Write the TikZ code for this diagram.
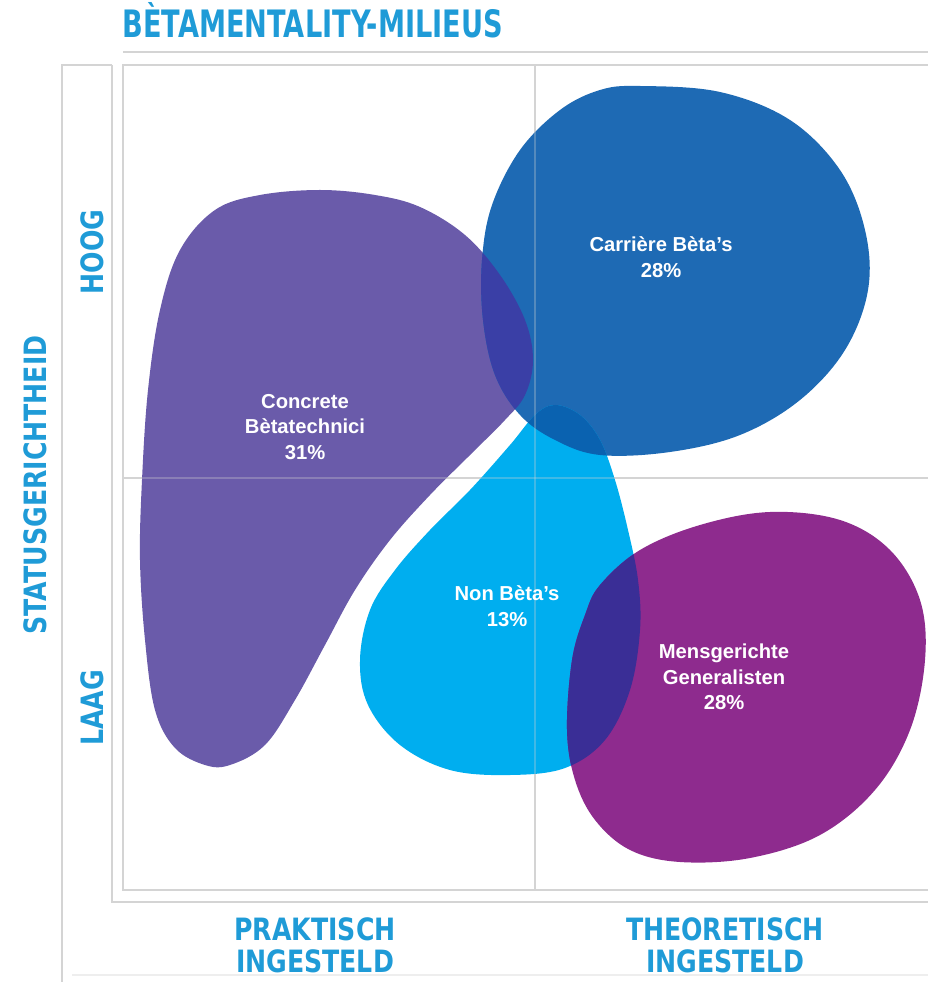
\documentclass[tikz,border=0pt]{standalone}
\usepackage{fontspec}
\setmainfont{Liberation Sans}
\newfontfamily\headfont[FakeStretch=0.72]{DejaVu Sans}
\newfontfamily\axisfont[FakeStretch=0.82]{DejaVu Sans}
\definecolor{milieublue}{HTML}{1F9BD7}
\definecolor{gridgray}{HTML}{D4D4D4}
\definecolor{concretepurple}{HTML}{6A5BAA}
\definecolor{carriereblue}{HTML}{1E6AB4}
\definecolor{noncyan}{HTML}{00AEEF}
\definecolor{mensmagenta}{HTML}{8E2B8E}
\definecolor{purpleblue}{HTML}{3A3FA6}
\definecolor{cyanblue}{HTML}{0A62B0}
\definecolor{cyanmagenta}{HTML}{3A2E96}
\tikzset{
  gridline/.style={draw=gridgray,line width=1.6pt},
  headlabel/.style={text=milieublue,inner sep=0pt,align=center,
    font=\axisfont\bfseries\fontsize{17.5}{18}\selectfont},
  blobtext/.style={text=white,inner sep=0pt,align=center,
    font=\bfseries\fontsize{11.5}{14.5}\selectfont}
}
\def\concreteblob{plot[smooth cycle,tension=0.6] coordinates {(320,190) (375,195) (420,207) (465,235) (500,275) (525,320) (533,360) (525,395) (505,420) (470,455) (430,495) (390,540) (355,590) (325,645) (295,700) (265,745) (230,765) (205,765) (175,748) (155,710) (145,640) (140,560) (142,480) (148,390) (160,310) (180,250) (215,210) (260,195)}}
\def\carriereblob{plot[smooth cycle,tension=0.6] coordinates {(640,86) (720,92) (790,120) (840,170) (865,230) (868,290) (845,350) (800,400) (740,435) (670,452) (600,455) (555,440) (520,415) (495,375) (483,320) (482,260) (492,205) (520,150) (560,110) (600,90)}}
\def\nonblob{plot[smooth cycle,tension=0.6] coordinates {(555,405) (580,415) (600,440) (615,480) (628,530) (638,580) (640,630) (630,690) (605,740) (565,768) (510,775) (450,770) (400,745) (368,705) (360,660) (370,610) (395,570) (430,530) (470,490) (510,445) (535,415)}}
\def\mensblob{plot[smooth cycle,tension=0.6] coordinates {(600,585) (640,550) (700,525) (770,512) (840,520) (890,550) (920,600) (925,660) (910,730) (875,790) (820,835) (750,858) (680,862) (630,850) (595,820) (575,780) (567,730) (572,660) (585,615)}}

\begin{document}
\begin{tikzpicture}[x=0.02cm,y=-0.02cm]
\useasboundingbox (0,0) rectangle (928,982);
\draw [gridline] (123,52) -- (928,52);
\draw [gridline] (62,982) -- (62,65) -- (112,65);
\draw [gridline] (112,65) -- (112,902) -- (928,902);
\draw [gridline] (940,65) -- (123,65) -- (123,890) -- (940,890);
\draw [gridline] (535,65) -- (535,890);
\draw [gridline] (123,478) -- (928,478);
\draw [draw=gridgray!40,line width=1pt] (72,975) -- (928,975);
\fill [concretepurple] \concreteblob;
\fill [carriereblue] \carriereblob;
\fill [noncyan] \nonblob;
\fill [mensmagenta] \mensblob;
\begin{scope}
\clip \carriereblob;
\fill [purpleblue] \concreteblob;
\fill [cyanblue] \nonblob;
\end{scope}
\begin{scope}
\clip \mensblob;
\fill [cyanmagenta] \nonblob;
\end{scope}
\draw [gridline,draw opacity=0.3] (535,65) -- (535,890);
\draw [gridline,draw opacity=0.3] (123,478) -- (928,478);
\node at (122,38) [anchor=base west,text=milieublue,inner sep=0pt,font=\headfont\bfseries\fontsize{21.5}{22}\selectfont] (Title) {BÈTAMENTALITY-MILIEUS};
\node at (35,485) [headlabel,rotate=90] (Status) {STATUSGERICHTHEID};
\node at (92,252) [headlabel,rotate=90] (Hoog) {HOOG};
\node at (92,708) [headlabel,rotate=90] (Laag) {LAAG};
\node at (315,945) [headlabel] (Praktisch) {PRAKTISCH\\INGESTELD};
\node at (725,945) [headlabel] (Theoretisch) {THEORETISCH\\INGESTELD};
\node at (661,257) [blobtext] (Carriere) {Carrière Bèta's\\28\%};
\node at (305,427) [blobtext] (Concrete) {Concrete\\Bètatechnici\\31\%};
\node at (507,606) [blobtext] (Non) {Non Bèta's\\13\%};
\node at (724,677) [blobtext] (Mens) {Mensgerichte\\Generalisten\\28\%};
\end{tikzpicture}
\end{document}
